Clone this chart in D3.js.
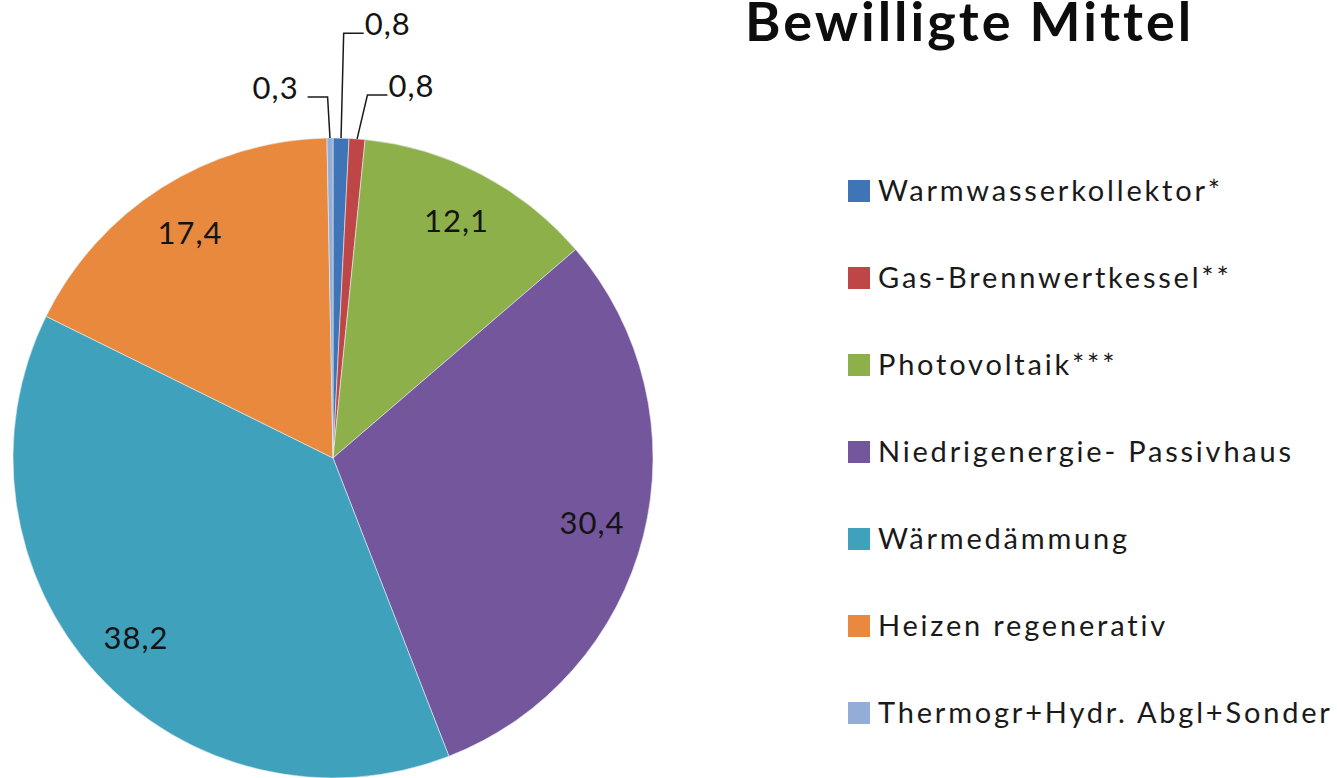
<!DOCTYPE html>
<html>
<head>
<meta charset="utf-8">
<script src="https://cdn.jsdelivr.net/npm/d3@7"></script>
<style>
  html, body { margin: 0; padding: 0; background: #ffffff; }
  svg { display: block; }
</style>
</head>
<body>
<svg id="chart" width="1337" height="778"></svg>
<script>
const categories = [
  "Warmwasserkollektor*",
  "Gas-Brennwertkessel**",
  "Photovoltaik***",
  "Niedrigenergie- Passivhaus",
  "Wärmedämmung",
  "Heizen regenerativ",
  "Thermogr+Hydr. Abgl+Sonder"
];
const values = [0.8, 0.8, 12.1, 30.4, 38.2, 17.4, 0.3];
const valueLabels = ["0,8", "0,8", "12,1", "30,4", "38,2", "17,4", "0,3"];
const colors = ["#3F74B6", "#BE4646", "#8DB04B", "#74569D", "#40A1BC", "#E8893D", "#93ADD8"];
const titleText = "Bewilligte Mittel";

const svg = d3.select("#chart");
const font = "Lato, 'Open Sans', sans-serif";

const cx = 333, cy = 458, R = 320;
const g = svg.append("g").attr("transform", `translate(${cx},${cy})`);

const data = categories.map((c, i) => ({ name: c, value: values[i], label: valueLabels[i], color: colors[i] }));

const pie = d3.pie().value(d => d.value).sort(null).startAngle(0).endAngle(2 * Math.PI);
const arcs = pie(data);
const arc = d3.arc().innerRadius(0).outerRadius(R);
const labelArc = d3.arc().innerRadius(267).outerRadius(267);

g.selectAll("path.slice")
  .data(arcs)
  .enter().append("path")
  .attr("class", "slice")
  .attr("d", arc)
  .attr("fill", d => d.data.color)
  .attr("stroke", "#e8eef2")
  .attr("stroke-width", 0.6);

// Inside labels for big slices
const bigThreshold = 5;
g.selectAll("text.inlabel")
  .data(arcs.filter(d => d.data.value >= bigThreshold))
  .enter().append("text")
  .attr("class", "inlabel")
  .attr("transform", d => `translate(${labelArc.centroid(d)})`)
  .attr("text-anchor", "middle")
  .attr("dy", "0.36em")
  .attr("font-family", font)
  .attr("font-size", 31)
  .attr("letter-spacing", 1)
  .attr("fill", "#141414")
  .text(d => d.data.label);

// Leader-line labels for small slices: elbow radius and side per slice index
const leaderLayout = {
  0: { r: 425, side: 1, shift: 0 },
  1: { r: 364, side: 1, shift: 7 },
  6: { r: 361, side: -1, shift: -2 }
};
const pt = (a, r) => [Math.sin(a) * r, -Math.cos(a) * r];

arcs.forEach((d, i) => {
  const cfg = leaderLayout[i];
  if (!cfg) return;
  const mid = (d.startAngle + d.endAngle) / 2;
  const p0 = pt(mid, R);
  const p1 = pt(mid, cfg.r);
  p1[0] += cfg.shift;
  const p2 = [p1[0] + cfg.side * 20, p1[1]];
  g.append("path")
    .attr("d", d3.line()([p0, p1, p2]))
    .attr("fill", "none")
    .attr("stroke", "#1a1a1a")
    .attr("stroke-width", 1.5);
  g.append("text")
    .attr("x", p2[0] + (cfg.side > 0 ? 1 : -9))
    .attr("y", p2[1] + 2)
    .attr("text-anchor", cfg.side > 0 ? "start" : "end")
    .attr("font-family", font)
    .attr("font-size", 31)
    .attr("letter-spacing", 1)
    .attr("fill", "#141414")
    .text(d.data.label);
});

// Title
svg.append("text")
  .attr("x", 745)
  .attr("y", 41)
  .attr("font-family", font)
  .attr("font-weight", 700)
  .attr("font-size", 54)
  .attr("letter-spacing", 3)
  .attr("fill", "#0d0d0d")
  .text(titleText);

// Legend
const legendY = d3.scalePoint().domain(categories).range([191, 713]);
const leg = svg.append("g");
const items = leg.selectAll("g.item").data(data).enter().append("g")
  .attr("class", "item")
  .attr("transform", d => `translate(848,${legendY(d.name)})`);
items.append("rect")
  .attr("x", 0).attr("y", -11)
  .attr("width", 22).attr("height", 22)
  .attr("fill", d => d.color);
items.append("text")
  .attr("x", 30)
  .attr("y", 0)
  .attr("dy", "0.36em")
  .attr("font-family", font)
  .attr("font-size", 29)
  .attr("letter-spacing", 2.8)
  .attr("fill", "#1a1a1a")
  .text(d => d.name);
</script>
</body>
</html>
